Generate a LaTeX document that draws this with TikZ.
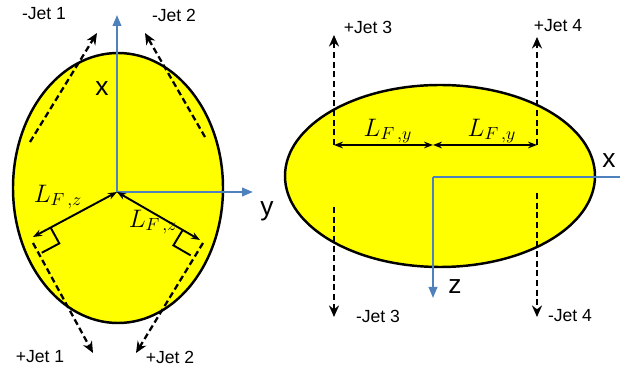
\documentclass[tikz,border=0pt]{standalone}
\usepackage{fontspec}
\setmainfont{Liberation Sans}
\usepackage{tikz}
\usetikzlibrary{arrows.meta}
\definecolor{axblue}{HTML}{4F81BD}
\definecolor{bodyyel}{HTML}{FFFF00}
\tikzset{
  body/.style={draw=black,line width=1.4pt,fill=bodyyel},
  ax/.style={-{Triangle[length=2.2mm,width=1.7mm]},line width=1.2pt,axblue},
  jet/.style={-{Stealth[length=2.3mm,width=2mm]},line width=1.3pt,dash pattern=on 3.5pt off 2pt},
  dim/.style={{Stealth[length=1.8mm]}-{Stealth[length=1.8mm]},line width=1.1pt},
  jl/.style={font=\fontsize{10}{12}\selectfont,inner sep=0pt},
  axl/.style={font=\fontsize{15}{17}\selectfont,inner sep=0pt},
  lf/.style={font=\fontsize{14}{16}\selectfont,inner sep=0pt}
}
\begin{document}
\begin{tikzpicture}[x=0.02cm,y=-0.02cm]
\useasboundingbox (0,0) rectangle (620,371);
% left view
\draw[body] (118,188) ellipse [x radius=105, y radius=135];
\coordinate (oA) at (117,192);
\coordinate (ax1) at (117,15);
\coordinate (ay1) at (253,192);
\draw[ax] (oA) -- (ax1);
\draw[ax] (oA) -- (ay1);
\node[axl] (lx1) at (102,89) {x};
\node[axl] (ly1) at (267,211) {y};
\coordinate (m1) at (33,237);
\coordinate (m2) at (200,240);
\draw[dim] (oA) -- (m1);
\draw[dim] (oA) -- (m2);
\draw[line width=1.1pt] (50.6,227.6) -- (59.3,243.4) -- (41.7,252.8);
\draw[line width=1.1pt] (182.7,230) -- (173.4,245.4) -- (190.7,255.4);
\node[lf] (lz1) at (58,197) {$L_{F\,,z}$};
\node[lf] (lz2) at (153,222) {$L_{F\,,z}$};
\coordinate (j1a) at (30,142);  \coordinate (j1b) at (97,33);
\coordinate (j2a) at (205,137); \coordinate (j2b) at (145,33);
\coordinate (j1c) at (33,243);  \coordinate (j1d) at (93,353);
\coordinate (j2c) at (203,243); \coordinate (j2d) at (136,353);
\draw[jet] (j1a) -- (j1b);
\draw[jet] (j2a) -- (j2b);
\draw[jet] (j1c) -- (j1d);
\draw[jet] (j2c) -- (j2d);
\node[jl] (mj1) at (44,14) {-Jet 1};
\node[jl] (mj2) at (174,15) {-Jet 2};
\node[jl] (pj1) at (40,357) {+Jet 1};
\node[jl] (pj2) at (170,357) {+Jet 2};
% right view
\draw[body] (440,176) ellipse [x radius=155, y radius=91];
\coordinate (oB) at (433,177);
\coordinate (ax2) at (620,177);
\coordinate (az2) at (433,298);
\draw[line width=1.2pt,axblue] (oB) -- (ax2);
\draw[ax] (oB) -- (az2);
\node[axl] (lx2) at (609,161) {x};
\node[axl] (lz) at (455,287) {z};
\coordinate (d1) at (334,145);
\coordinate (d2) at (433,145);
\coordinate (d3) at (537,145);
\draw[dim] (d1) -- (d2);
\draw[dim] (d2) -- (d3);
\node[lf] (ly2) at (388,131) {$L_{F\,,y}$};
\node[lf] (ly3) at (492,131) {$L_{F\,,y}$};
\coordinate (j3a) at (334,35);  \coordinate (j3b) at (334,207); \coordinate (j3c) at (334,317);
\coordinate (j4a) at (537,37);  \coordinate (j4b) at (537,193); \coordinate (j4c) at (537,317);
\draw[jet] (d1) -- (j3a);
\draw[jet] (j3b) -- (j3c);
\draw[jet] (d3) -- (j4a);
\draw[jet] (j4b) -- (j4c);
\node[jl] (pj3) at (368,27) {+Jet 3};
\node[jl] (pj4) at (558,26) {+Jet 4};
\node[jl] (mj3) at (378,316) {-Jet 3};
\node[jl] (mj4) at (570,316) {-Jet 4};
\end{tikzpicture}
\end{document}
